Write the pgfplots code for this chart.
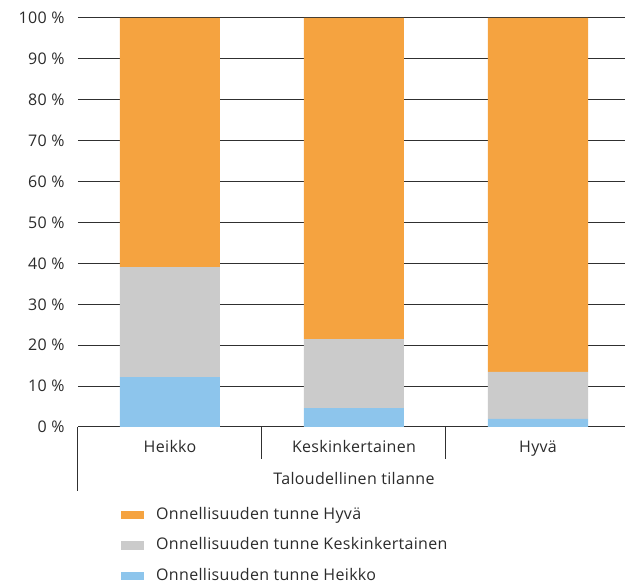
\documentclass[border=0pt]{standalone}
\usepackage{pgfplots}
\pgfplotsset{compat=1.18}
\usepackage{fontspec}
\setmainfont{Open Sans}[LetterSpace=2]
\definecolor{cOr}{HTML}{F5A340}
\definecolor{cGr}{HTML}{CBCBCB}
\definecolor{cBl}{HTML}{8DC5EC}
\definecolor{txt}{HTML}{2B2B2B}
\definecolor{gridc}{HTML}{303030}
\begin{document}
\begin{tikzpicture}[font=\fontsize{16}{19}\selectfont]
\begin{axis}[
 name=ax, scale only axis, width=552pt, height=409pt,
 xmin=-0.5, xmax=2.5, ymin=0, ymax=100,
 ybar stacked, bar width=100pt,
 axis line style={draw=none},
 major tick length=0pt,
 xtick={0,1,2}, xticklabels={Heikko,Keskinkertainen,Hyvä},
 ytick={0,10,...,100},
 yticklabels={0~\%,10~\%,20~\%,30~\%,40~\%,50~\%,60~\%,70~\%,80~\%,90~\%,100~\%},
 ymajorgrids, grid style={draw=gridc, line width=1pt},
 xticklabel style={text=txt, yshift=-10pt},
 yticklabel style={text=txt, xshift=-10pt},
 xlabel={Taloudellinen tilanne},
 xlabel style={text=txt, at={(axis description cs:0.5,0)}, anchor=north, yshift=-42pt},
 legend style={at={(axis description cs:0,0)}, anchor=north west, xshift=43pt, yshift=-80pt,
   draw=none, fill=none, inner sep=0pt, row sep=15pt,
   nodes={text=txt, inner sep=0pt, text height=12pt, text depth=3.5pt},
   /tikz/every odd column/.append style={column sep=12pt}},
 legend cell align=left, reverse legend,
 legend image code/.code={\fill[#1] (0pt,-4.3pt) rectangle (23pt,4.3pt);},
 clip=false,
]
\addplot+[fill=cBl, draw=none] coordinates {(0,12.2) (1,4.6) (2,2.0)};
\addlegendentry{Onnellisuuden tunne Heikko}
\addplot+[fill=cGr, draw=none] coordinates {(0,26.9) (1,16.9) (2,11.5)};
\addlegendentry{Onnellisuuden tunne Keskinkertainen}
\addplot+[fill=cOr, draw=none] coordinates {(0,60.9) (1,78.5) (2,86.5)};
\addlegendentry{Onnellisuuden tunne Hyvä}
\draw[gridc, line width=1pt] (axis cs:-0.5,0) -- ++(0pt,-64pt);
\draw[gridc, line width=1pt] (axis cs:0.5,0) -- ++(0pt,-32pt);
\draw[gridc, line width=1pt] (axis cs:1.5,0) -- ++(0pt,-32pt);
\end{axis}
\pgfresetboundingbox
\path[use as bounding box] ([shift={(-78pt,-156pt)}]ax.south west) rectangle ([shift={(547pt,427pt)}]ax.south west);
\end{tikzpicture}
\end{document}
